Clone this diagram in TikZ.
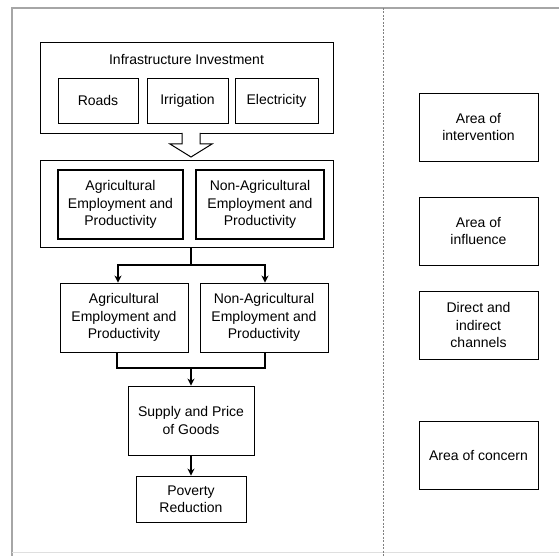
\documentclass[tikz,border=0pt]{standalone}
\usepackage{fontspec}
\setmainfont{Liberation Sans}
\usetikzlibrary{arrows.meta}

\tikzset{
  box/.style={draw, line width=0.9pt, align=center, inner sep=2pt},
  thickbox/.style={box, line width=2pt},
  link/.style={line width=1.6pt},
  flow/.style={link, -{Stealth[length=7pt,width=7pt]}},
}

\begin{document}
\begin{tikzpicture}[x=1pt,y=-1pt,font=\fontsize{14}{17.5}\selectfont]
  \useasboundingbox (0,0) rectangle (559,556);
  % frame and divider
  \draw[gray!70,line width=2pt] (559,8) -- (12,8) -- (12,556);
  \draw[gray!25,line width=1pt] (12,552) -- (559,552);
  \draw[gray,line width=0.8pt,dash pattern=on 2pt off 1.5pt] (383,8) -- (383,556);

  % infrastructure investment
  \node[box,minimum width=293pt,minimum height=91pt] (infra) at (186.5,87.5) {};
  \node (infratitle) at (186.5,60) {Infrastructure Investment};
  \foreach \name/\x/\w/\txt in {roads/98/80/Roads, irrig/187.5/81/Irrigation, elec/276.5/83/Electricity}
    {\node[box,minimum width=\w pt,minimum height=45pt] (\name) at (\x,100.5) {\txt};}
  \draw[line width=1pt,fill=white] (182,133) -- (182,144) -- (170,144) -- (191,157)
    -- (212,144) -- (200,144) -- (200,133);

  % area of influence
  \node[box,minimum width=293pt,minimum height=87pt] (channels) at (186.5,203.5) {};
  \node[thickbox,minimum width=125pt,minimum height=69pt] (agA) at (120.5,204.5) {Agricultural\\Employment and\\Productivity};
  \node[thickbox,minimum width=128pt,minimum height=69pt] (nagA) at (260,204.5) {Non-Agricultural\\Employment and\\Productivity};

  % direct and indirect channels
  \node[box,minimum width=128pt,minimum height=69pt] (agB) at (124,317.5) {Agricultural\\Employment and\\Productivity};
  \node[box,minimum width=128pt,minimum height=69pt] (nagB) at (264,317.5) {Non-Agricultural\\Employment and\\Productivity};
  \coordinate (split) at (191,265);
  \draw[link] (channels.south -| split) -- (split);
  \draw[flow] (split) -| ([xshift=-6pt]agB.north);
  \draw[flow] (split) -| ([xshift=1pt]nagB.north);

  % area of concern
  \node[box,minimum width=126pt,minimum height=69pt] (supply) at (191,420.5) {Supply and Price\\of Goods};
  \node[box,minimum width=110pt,minimum height=46pt] (poverty) at (191,499) {Poverty\\Reduction};
  \coordinate (merge) at (191,368);
  \draw[link] ([xshift=-7pt]agB.south) |- (merge);
  \draw[link] ([xshift=1pt]nagB.south) |- (merge);
  \draw[flow] (merge) -- (supply.north);
  \draw[flow] (supply) -- (poverty);

  % legend column
  \foreach \name/\y/\txt in {intervention/127/{Area of\\intervention}, influence/231/{Area of\\influence},
      direct/325/{Direct and\\indirect\\channels}, concern/455/{Area of concern}}
    {\node[box,minimum width=119pt,minimum height=68pt] (\name) at (478.5,\y) {\txt};}
\end{tikzpicture}
\end{document}
